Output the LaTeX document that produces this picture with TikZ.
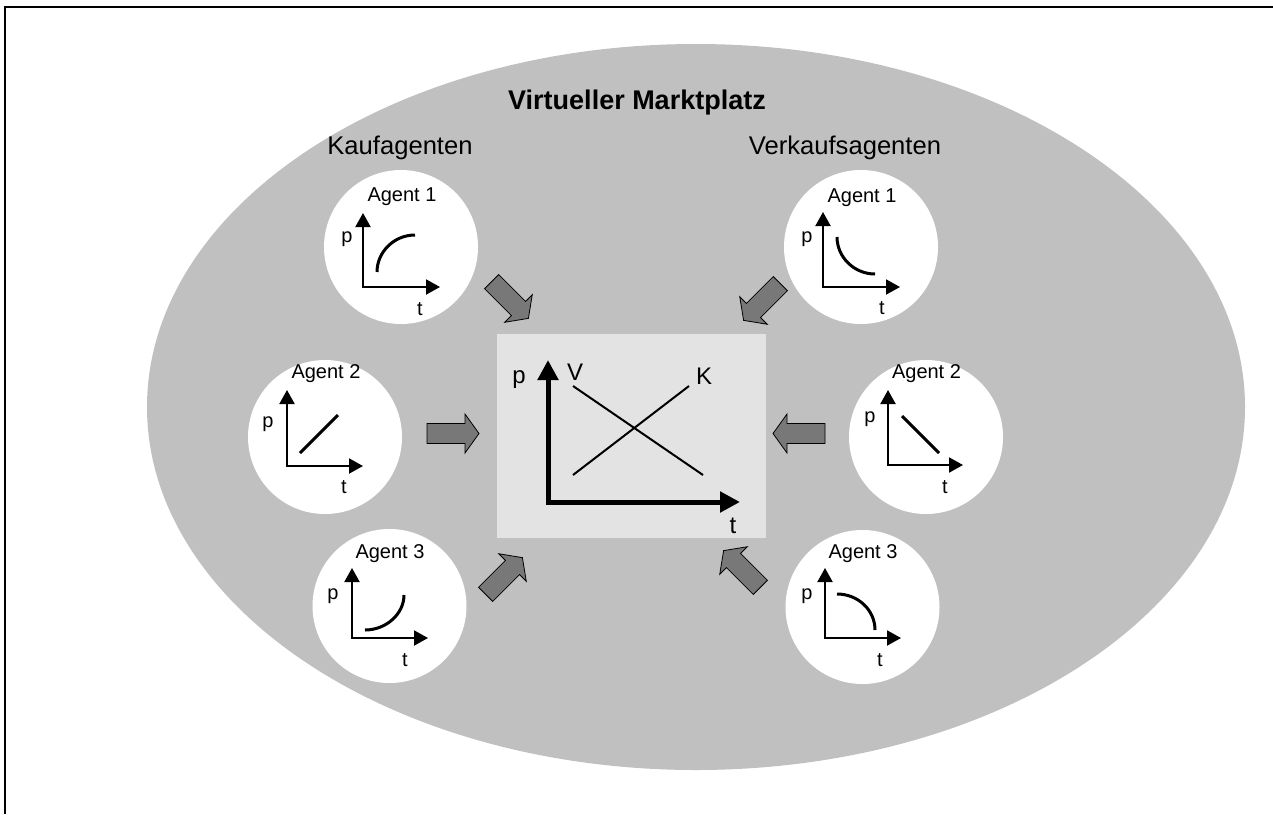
\documentclass[tikz,border=0pt]{standalone}
\usepackage{fontspec}
\setmainfont{Liberation Sans}
\usetikzlibrary{arrows.meta,shapes.geometric}

\definecolor{marktgrau}{RGB}{192,192,192}
\definecolor{boxgrau}{RGB}{227,227,227}
\definecolor{pfeilgrau}{RGB}{120,120,120}

% block arrow pointing towards the price chart
\newcommand{\marktpfeil}[2]{%
  \begin{scope}[shift={#1}, rotate=#2]
    \draw[blockpfeil] (-26,-10) -- (12,-10) -- (12,-19.5) -- (26,0)
      -- (12,19.5) -- (12,10) -- (-26,10) -- cycle;
  \end{scope}}

\begin{document}
\begin{tikzpicture}[
        x=1pt, y=-1pt,
        markt/.style={ellipse, fill=marktgrau, minimum width=1098pt, minimum height=726pt, inner sep=0pt},
        agent/.style={circle, fill=white, minimum size=154pt, inner sep=0pt},
        preisbox/.style={rectangle, fill=boxgrau, minimum width=269pt, minimum height=204pt, inner sep=0pt},
        agentlabel/.style={anchor=base, inner sep=0pt, font=\fontsize{20}{24}\selectfont},
        gruppe/.style={anchor=base, inner sep=0pt, font=\fontsize{25.6}{30}\selectfont},
        charttext/.style={anchor=base, inner sep=0pt, font=\fontsize{24}{28}\selectfont},
        achse/.style={line width=2pt, {Triangle[length=14pt,width=15pt]}-{Triangle[length=14pt,width=15pt]}},
        hauptachse/.style={line width=5pt, {Triangle[length=20pt,width=20pt]}-{Triangle[length=20pt,width=20pt]}},
        kurve/.style={line width=3pt},
        gerade/.style={line width=2pt},
        blockpfeil/.style={fill=pfeilgrau, draw=black, line width=0.8pt, line join=miter}
    ]
        \useasboundingbox (0,0) rectangle (1273,814);

        % Frame
        \draw[line width=2pt] (5,814) -- (5,7) -- (1273,7);

        % Marketplace
        \node[markt] (markt) at (696,407) {};
        \node[anchor=base, inner sep=0pt, font=\fontsize{27}{31}\selectfont\bfseries] (titel) at (637,109) {Virtueller Marktplatz};
        \node[gruppe] (kaufen) at (400,154) {Kaufagenten};
        \node[gruppe] (verkaufen) at (845,154) {Verkaufsagenten};

        % Price chart in the middle
        \node[preisbox] (preis) at (631.5,436) {};
        \draw[hauptachse] (548,360) -- (548,502) -- (740,502);
        \node[charttext] (preis_p) at (519,383) {p};
        \node[charttext] (preis_t) at (733,533) {t};
        \node[charttext] (preis_v) at (575,380) {V};
        \node[charttext] (preis_k) at (704,384) {K};
        \draw[gerade] (573,386) -- (703,475);
        \draw[gerade] (573,475) -- (689,386);

        % Buying agents
        \node[agent] (kauf1) at (401,247) {};
        \node[agentlabel] (kauf1_name) at (402,201) {Agent 1};
        \draw[achse] (363,213) -- (363,287) -- (440,287);
        \node[agentlabel] (kauf1_p) at (347,242) {p};
        \node[agentlabel] (kauf1_t) at (420,315) {t};
        \draw[kurve] (377,272) .. controls (377,252) and (394,235) .. (415,235);

        \node[agent] (kauf2) at (325,437) {};
        \node[agentlabel] (kauf2_name) at (326,378) {Agent 2};
        \draw[achse] (287,390) -- (287,466) -- (363,466);
        \node[agentlabel] (kauf2_p) at (268,427) {p};
        \node[agentlabel] (kauf2_t) at (344,493) {t};
        \draw[kurve] (300,453) -- (338,415);

        \node[agent] (kauf3) at (389.5,606) {};
        \node[agentlabel] (kauf3_name) at (390,558) {Agent 3};
        \draw[achse] (352,568) -- (352,638) -- (428,638);
        \node[agentlabel] (kauf3_p) at (333,599) {p};
        \node[agentlabel] (kauf3_t) at (405,666) {t};
        \draw[kurve] (365,630) .. controls (386,630) and (404,614) .. (404,595);

        % Selling agents
        \node[agent] (verk1) at (861,247) {};
        \node[agentlabel] (verk1_name) at (862,202) {Agent 1};
        \draw[achse] (823,212) -- (823,287) -- (900,287);
        \node[agentlabel] (verk1_p) at (807,242) {p};
        \node[agentlabel] (verk1_t) at (882,314) {t};
        \draw[kurve] (837,237) .. controls (837,257) and (854,274) .. (875,274);

        \node[agent] (verk2) at (926,437) {};
        \node[agentlabel] (verk2_name) at (926.5,378) {Agent 2};
        \draw[achse] (888,390) -- (888,465) -- (963,465);
        \node[agentlabel] (verk2_p) at (870,422) {p};
        \node[agentlabel] (verk2_t) at (945,493) {t};
        \draw[kurve] (902,416) -- (939,453);

        \node[agent] (verk3) at (862.5,607) {};
        \node[agentlabel] (verk3_name) at (863,558) {Agent 3};
        \draw[achse] (825,568) -- (825,638) -- (901,638);
        \node[agentlabel] (verk3_p) at (807,599) {p};
        \node[agentlabel] (verk3_t) at (880,666) {t};
        \draw[kurve] (837,594) .. controls (858,594) and (875,610) .. (875,630);

        % Block arrows towards the chart
        \marktpfeil{(510,300)}{-45}
        \marktpfeil{(453,433.5)}{0}
        \marktpfeil{(504,576)}{45}
        \marktpfeil{(762,302)}{-135}
        \marktpfeil{(799,433.5)}{180}
        \marktpfeil{(742,569)}{135}

    \end{tikzpicture}
\end{document}
